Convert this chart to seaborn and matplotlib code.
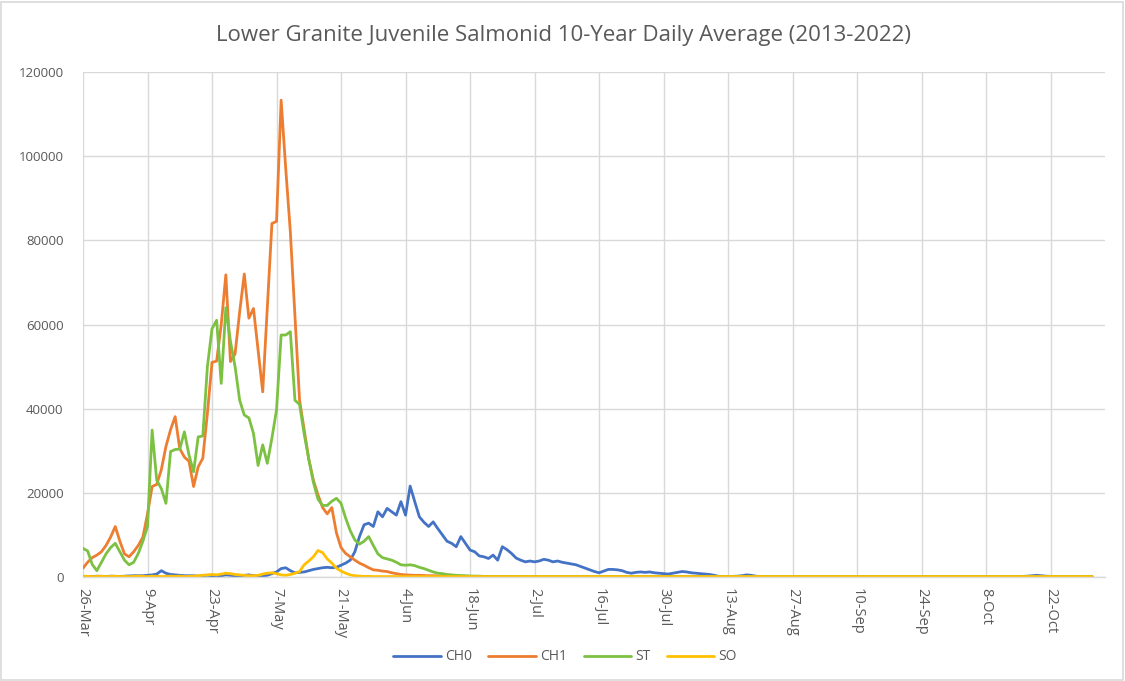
import pandas as pd
import matplotlib
matplotlib.use("Agg")
import matplotlib.pyplot as plt
import seaborn as sns
from matplotlib.patches import Rectangle

# Daily averages, 26-Mar through 31-Oct
start_date = "2022-03-26"

ch0 = [
    100, 150, 100, 200, 150, 100, 200, 150, 100, 200,
    250, 300, 300, 300, 400, 500, 700, 1500, 900, 600,
    500, 400, 300, 300, 300, 200, 300, 400, 300, 200,
    300, 500, 400, 300, 300, 400, 500, 300, 200, 300,
    400, 800, 1200, 2000, 2200, 1500, 1000, 1100, 1200, 1500,
    1800, 2000, 2200, 2300, 2200, 2300, 2800, 3300, 4000, 6000,
    9600, 12400, 12800, 12000, 15500, 14300, 16300, 15500, 14700, 17900,
    14700, 21600, 17900, 14300, 13000, 12000, 13100, 11500, 10000, 8500,
    8000, 7200, 9600, 8000, 6400, 6000, 5000, 4800, 4400, 5200,
    4000, 7200, 6500, 5600, 4500, 4000, 3600, 3800, 3600, 3800,
    4200, 4000, 3600, 3800, 3500, 3300, 3100, 2900, 2500, 2100,
    1700, 1300, 1000, 1400, 1800, 1800, 1700, 1500, 1100, 900,
    1100, 1200, 1100, 1200, 1000, 900, 800, 700, 900, 1100,
    1300, 1200, 1000, 900, 800, 700, 600, 400, 150, 150,
    100, 150, 200, 300, 500, 400, 200, 100, 100, 150,
    100, 100, 150, 100, 100, 100, 150, 100, 100, 100,
    150, 100, 100, 100, 150, 100, 100, 100, 100, 100,
    100, 100, 100, 100, 50, 50, 50, 50, 50, 50,
    50, 50, 50, 100, 100, 100, 100, 100, 150, 100,
    100, 100, 150, 100, 100, 100, 100, 150, 100, 100,
    100, 150, 100, 100, 150, 200, 300, 400, 300, 200,
    150, 100, 100, 150, 100, 100, 100, 100, 150, 100,
]

ch1 = [
    2100, 3500, 4600, 5200, 6000, 7500, 9500, 12000, 8500, 5500,
    4800, 6000, 7500, 9500, 15000, 21500, 22000, 25500, 31000, 35000,
    38100, 30500, 28500, 27500, 21500, 26200, 28200, 38900, 51000, 51300,
    60000, 71800, 51200, 53000, 63000, 72000, 61500, 63800, 54000, 44000,
    64000, 84000, 84500, 113300, 97000, 82000, 62000, 42000, 35000, 28000,
    23000, 19500, 16500, 15000, 16500, 10500, 7000, 5600, 4800, 4000,
    3300, 2800, 2200, 1700, 1600, 1400, 1300, 1000, 800, 600,
    500, 450, 400, 400, 350, 300, 300, 250, 250, 200,
    200, 150, 150, 150, 100, 100, 100, 100, 100, 100,
    100, 100, 50, 100, 50, 50, 100, 50, 50, 50,
    50, 50, 50, 50, 50, 50, 50, 50, 50, 50,
    50, 50, 50, 50, 50, 50, 50, 50, 50, 50,
    50, 50, 50, 50, 50, 50, 50, 50, 50, 50,
    50, 50, 50, 50, 50, 50, 50, 50, 50, 50,
    50, 50, 50, 50, 50, 50, 50, 50, 50, 50,
    50, 50, 50, 50, 50, 50, 50, 50, 50, 50,
    50, 50, 50, 50, 50, 50, 50, 50, 50, 50,
    50, 50, 50, 50, 50, 50, 50, 50, 50, 50,
    50, 50, 50, 50, 50, 50, 50, 50, 50, 50,
    50, 50, 50, 50, 50, 50, 50, 50, 50, 50,
    50, 50, 50, 50, 50, 50, 50, 50, 50, 50,
    50, 50, 50, 50, 50, 50, 50, 50, 50, 50,
]

st = [
    6800, 6200, 3000, 1500, 3500, 5500, 7000, 8000, 6000, 4000,
    2900, 3500, 5600, 8500, 12000, 34900, 23000, 21000, 17500, 29800,
    30300, 30400, 34500, 29000, 25000, 33300, 33500, 50000, 59000, 61000,
    46000, 64000, 56000, 50000, 42000, 38500, 37800, 34100, 26500, 31400,
    27000, 33000, 39700, 57500, 57500, 58300, 42000, 41000, 34000, 28000,
    22500, 18500, 17000, 17000, 18000, 18700, 17500, 14000, 11000, 8800,
    7800, 8500, 9600, 7500, 5500, 4600, 4300, 4000, 3500, 2900,
    2800, 2900, 2700, 2300, 2000, 1600, 1200, 900, 800, 600,
    500, 400, 350, 300, 250, 200, 200, 150, 150, 100,
    100, 100, 100, 100, 100, 100, 100, 100, 100, 100,
    100, 100, 100, 100, 100, 100, 100, 100, 100, 100,
    100, 100, 100, 100, 100, 100, 100, 100, 100, 100,
    100, 100, 100, 100, 100, 100, 100, 100, 100, 100,
    100, 100, 100, 100, 100, 100, 100, 100, 100, 100,
    100, 100, 100, 100, 100, 100, 100, 100, 100, 100,
    100, 100, 100, 100, 100, 100, 100, 100, 100, 100,
    100, 100, 100, 100, 100, 100, 100, 100, 100, 100,
    100, 100, 100, 100, 100, 100, 100, 100, 100, 100,
    100, 100, 100, 100, 100, 100, 100, 100, 100, 100,
    100, 100, 100, 100, 100, 100, 100, 100, 100, 100,
    100, 100, 100, 100, 100, 100, 100, 100, 100, 100,
    100, 100, 100, 100, 100, 100, 100, 100, 100, 100,
]

so = [
    200, 150, 100, 150, 200, 100, 150, 200, 100, 150,
    100, 150, 200, 150, 100, 200, 150, 100, 150, 200,
    150, 200, 100, 150, 200, 300, 400, 500, 600, 500,
    700, 900, 800, 600, 500, 400, 300, 300, 400, 700,
    900, 1000, 800, 500, 400, 600, 900, 1300, 2900, 3800,
    4800, 6300, 5800, 4300, 3300, 2100, 1400, 900, 500, 300,
    200, 150, 150, 100, 100, 100, 100, 100, 100, 100,
    100, 100, 100, 100, 100, 100, 100, 100, 100, 100,
    100, 100, 100, 100, 100, 100, 100, 100, 100, 100,
    100, 100, 100, 100, 100, 100, 100, 100, 100, 100,
    100, 100, 100, 100, 100, 100, 100, 100, 100, 100,
    100, 100, 100, 100, 100, 100, 100, 100, 100, 100,
    100, 100, 100, 100, 100, 100, 100, 100, 100, 100,
    100, 100, 100, 100, 100, 100, 100, 100, 100, 100,
    100, 100, 100, 100, 100, 100, 100, 100, 100, 100,
    100, 100, 100, 100, 100, 100, 100, 100, 100, 100,
    100, 100, 100, 100, 100, 100, 100, 100, 100, 100,
    100, 100, 100, 100, 100, 100, 100, 100, 100, 100,
    100, 100, 100, 100, 100, 100, 100, 100, 100, 100,
    100, 100, 100, 100, 100, 100, 100, 100, 100, 100,
    100, 100, 100, 100, 100, 100, 100, 100, 100, 100,
    100, 100, 100, 100, 100, 100, 100, 100, 100, 100,
]

series_names = ["CH0", "CH1", "ST", "SO"]
series_colors = ["#4472C4", "#ED7D31", "#7CC142", "#FFC000"]
tick_labels = ["26-Mar", "9-Apr", "23-Apr", "7-May", "21-May", "4-Jun", "18-Jun",
               "2-Jul", "16-Jul", "30-Jul", "13-Aug", "27-Aug", "10-Sep",
               "24-Sep", "8-Oct", "22-Oct"]
y_ticks = [0, 20000, 40000, 60000, 80000, 100000, 120000]
title = "Lower Granite Juvenile Salmonid 10-Year Daily Average (2013-2022)"

dates = pd.date_range(start_date, periods=len(ch0), freq="D")
wide = pd.DataFrame({"date": dates, "CH0": ch0, "CH1": ch1, "ST": st, "SO": so})
df = wide.melt(id_vars="date", var_name="series", value_name="count")

sns.set_theme(style="white")
plt.rcParams["font.family"] = ["Open Sans", "DejaVu Sans"]

text_color = "#595959"
grid_color = "#D9D9D9"

fig = plt.figure(figsize=(11.25, 6.81), dpi=100)
W, H = 1125, 681
ax = fig.add_axes([83 / W, 1 - 577 / H, (1105 - 83) / W, (577 - 72) / H])

sns.lineplot(data=df, x="date", y="count", hue="series", hue_order=series_names,
             palette=dict(zip(series_names, series_colors)), linewidth=2.0,
             ax=ax, legend=True)

tick_dates = pd.date_range(start_date, periods=len(tick_labels), freq="14D")
ax.set_xticks(tick_dates)
ax.set_xticklabels(tick_labels, rotation=-90, fontsize=10.5, color=text_color)
ax.set_xlim(dates[0], dates[0] + pd.Timedelta(days=221.8))

ax.set_ylim(0, 120000)
ax.set_yticks(y_ticks)
ax.set_yticklabels([str(v) for v in y_ticks], fontsize=9.5, color=text_color)

ax.grid(True, color=grid_color, linewidth=1.0)
ax.set_axisbelow(True)
for side in ["left", "right", "top"]:
    ax.spines[side].set_visible(False)
ax.spines["bottom"].set_color(grid_color)
ax.spines["bottom"].set_linewidth(1.0)
ax.tick_params(axis="both", length=0)
ax.tick_params(axis="y", pad=14)
ax.tick_params(axis="x", pad=8)
ax.set_xlabel("")
ax.set_ylabel("")

handles, labels = ax.get_legend_handles_labels()
ax.get_legend().remove()
fig.legend(handles, labels, loc="center", bbox_to_anchor=(565 / W, 1 - 657 / H),
           ncol=4, frameon=False, fontsize=10, handlelength=3.4,
           columnspacing=1.2, handletextpad=0.3, labelcolor=text_color)

fig.text(563 / W, 1 - 36 / H, title, ha="center", va="center",
         fontsize=16, color=text_color)

fig.patches.append(Rectangle((1 / W, 1 / H), (W - 3) / W, (H - 3) / H,
                             transform=fig.transFigure, fill=False,
                             edgecolor=grid_color, linewidth=1.2))

fig.savefig("out.png", dpi=100)
